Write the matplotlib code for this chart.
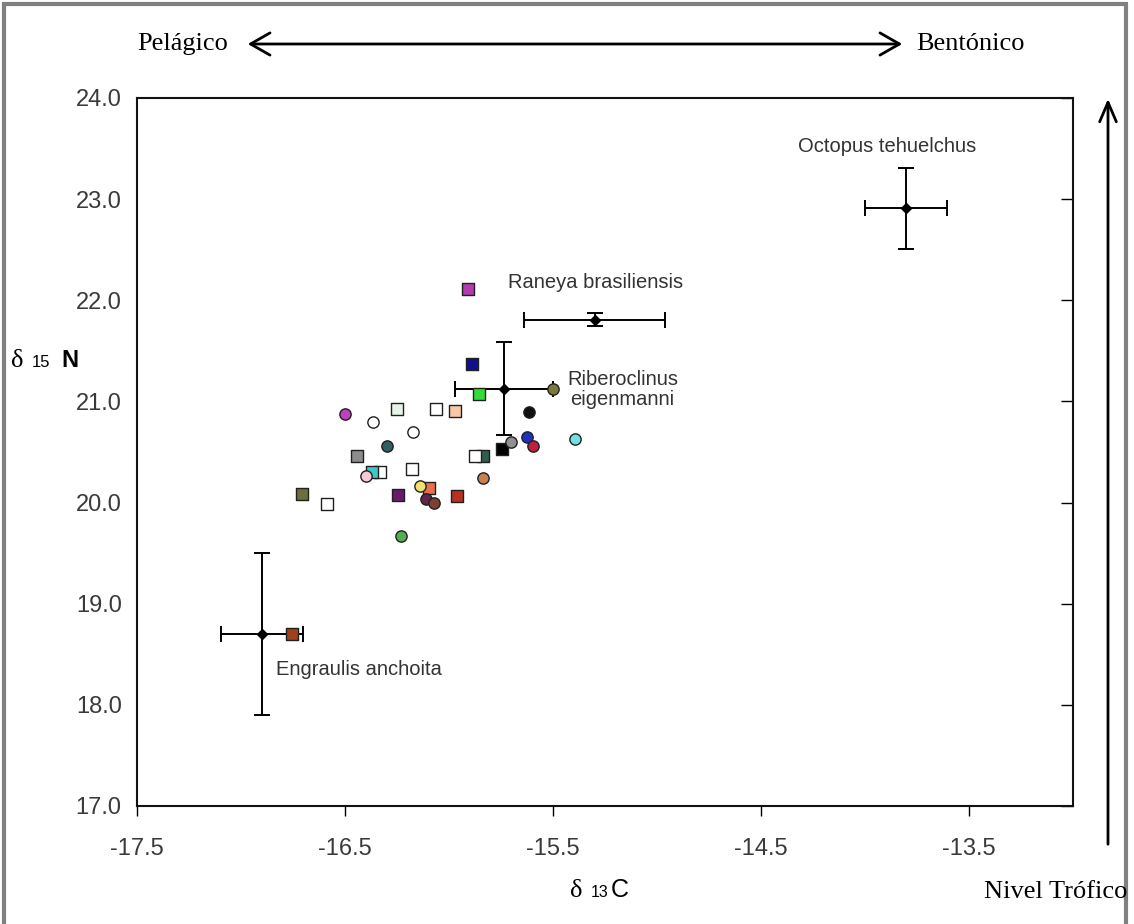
import matplotlib
matplotlib.use("Agg")
import matplotlib.pyplot as plt
from matplotlib.patches import FancyArrowPatch, Rectangle
from matplotlib.ticker import FormatStrFormatter

# --- data ---
# species with mean +- sd
sp_names = ["Engraulis anchoita", "Raneya brasiliensis", "Riberoclinus\neigenmanni", "Octopus tehuelchus"]
sp_c13 = [-16.90, -15.30, -15.734, -13.804]
sp_n15 = [18.70, 21.81, 21.126, 22.91]
sp_c13_sd = [0.197, 0.34, 0.235, 0.196]
sp_n15_sd = [0.80, 0.06, 0.46, 0.40]

# square symbols (drawn in this order)
sq_c13 = [-15.910, -15.888, -15.854, -15.747, -15.837, -15.875, -15.963, -16.096,
          -16.244, -16.180, -16.330, -16.370, -16.444, -16.252, -16.064, -15.971,
          -16.708, -16.588, -16.756]
sq_n15 = [22.116, 21.366, 21.076, 20.530, 20.458, 20.458, 20.062, 20.145,
          20.079, 20.330, 20.300, 20.300, 20.458, 20.930, 20.930, 20.910,
          20.089, 19.987, 18.700]
sq_col = ["#b03cb0", "#10108c", "#33dd33", "#000000", "#2f5e4e", "#ffffff", "#b83020", "#e8704a",
          "#6a1a6a", "#ffffff", "#ffffff", "#3cc8c8", "#8c8c8c", "#e8f4e8", "#ffffff", "#f8c8a8",
          "#6e6e3c", "#ffffff", "#a0401c"]

# circle symbols
ci_c13 = [-15.502, -15.614, -15.393, -15.627, -15.598, -15.702, -15.838, -16.139,
          -16.112, -16.071, -16.401, -16.300, -16.367, -16.175, -16.500, -16.233]
ci_n15 = [21.126, 20.898, 20.624, 20.650, 20.557, 20.600, 20.244, 20.162,
          20.036, 19.997, 20.260, 20.564, 20.800, 20.700, 20.880, 19.674]
ci_col = ["#7a7a40", "#101010", "#70e0e0", "#2030c0", "#c02040", "#909090", "#c88050", "#f0e070",
          "#602848", "#804030", "#f8c8d8", "#306060", "#ffffff", "#ffffff", "#c040c0", "#50b050"]

xticks = [-17.5, -16.5, -15.5, -14.5, -13.5]
yticks = [17, 18, 19, 20, 21, 22, 23, 24]

W, H = 1134, 924
def fx(px):
    return px / W
def fy(py):
    return 1 - py / H

fig = plt.figure(figsize=(W / 100, H / 100), dpi=100)
fig.patch.set_facecolor("white")
ax = fig.add_axes([fx(137), fy(806), (1073 - 137) / W, (806 - 98) / H])

sans = "Liberation Sans"
serif = "Liberation Serif"

# error bars for the species means
ax.errorbar(sp_c13, sp_n15, xerr=sp_c13_sd, yerr=sp_n15_sd, fmt="D", color="black",
            ms=5, elinewidth=1.4, capsize=6, capthick=1.4, zorder=2)

# points
for x, y, c in zip(sq_c13, sq_n15, sq_col):
    ax.scatter(x, y, marker="s", s=72, c=c, edgecolors="#202020", linewidths=1.0, zorder=3)
for x, y, c in zip(ci_c13, ci_n15, ci_col):
    ax.scatter(x, y, marker="o", s=66, c=c, edgecolors="#202020", linewidths=1.0, zorder=3)

# species labels
ax.text(-13.894, 23.525, sp_names[3], ha="center", va="center", fontsize=14.5, family=sans, color="#333333")
ax.text(-15.716, 22.178, sp_names[1], ha="left", va="center", fontsize=14.5, family=sans, color="#333333")
ax.text(-15.433, 21.12, sp_names[2], ha="left", va="center", multialignment="center",
        linespacing=1.1, fontsize=14.5, family=sans, color="#333333")
ax.text(-16.832, 18.347, sp_names[0], ha="left", va="center", fontsize=14.5, family=sans, color="#333333")

ax.set_xlim(-17.5, -13.0)
ax.set_ylim(17, 24)
ax.set_xticks(xticks)
ax.set_yticks(yticks)
ax.xaxis.set_major_formatter(FormatStrFormatter("%.1f"))
ax.yaxis.set_major_formatter(FormatStrFormatter("%.1f"))
ax.tick_params(axis="x", direction="out", length=7, width=1, pad=16, labelsize=17, labelcolor="#3a3a3a")
ax.tick_params(axis="y", left=False, right=True, direction="in", length=9, width=1, pad=11,
               labelsize=17, labelcolor="#3a3a3a")
for lab in ax.get_xticklabels() + ax.get_yticklabels():
    lab.set_family(sans)
for s in ax.spines.values():
    s.set_linewidth(1.5)
    s.set_color("#111111")

# axis titles built from pieces
fig.text(fx(11), fy(367), "\u03b4", family=serif, fontsize=19, va="baseline", ha="left")
fig.text(fx(32), fy(367), "15", family=sans, fontsize=12, va="baseline", ha="left")
fig.text(fx(61), fy(367), "N", family=sans, fontsize=17, weight="bold", va="baseline", ha="left")

fig.text(fx(570), fy(897), "\u03b4", family=serif, fontsize=19, va="baseline", ha="left")
fig.text(fx(591), fy(897), "13", family=sans, fontsize=11.5, va="baseline", ha="left")
fig.text(fx(611), fy(897), "C", family=sans, fontsize=18, va="baseline", ha="left")

# Pelagico <-> Bentonico
fig.text(fx(137), fy(44), "Pelágico", family=serif, fontsize=19, ha="left", va="center")
fig.text(fx(916), fy(44), "Bentónico", family=serif, fontsize=19, ha="left", va="center")
fig.add_artist(FancyArrowPatch((fx(245), fy(44)), (fx(905), fy(44)), transform=fig.transFigure,
                               arrowstyle="<->,head_length=0.7,head_width=0.4", mutation_scale=20,
                               lw=2, color="black"))

# trophic level arrow
fig.text(fx(1056), fy(892), "Nivel Trófico", family=serif, fontsize=19, ha="center", va="center")
fig.add_artist(FancyArrowPatch((fx(1108), fy(847)), (fx(1108), fy(96)), transform=fig.transFigure,
                               arrowstyle="->,head_length=0.7,head_width=0.3", mutation_scale=20,
                               lw=2, color="black"))

# grey frame round the picture
fig.add_artist(Rectangle((fx(4), fy(960)), (1126 - 4) / W, (960 - 4) / H, transform=fig.transFigure,
                         fill=False, edgecolor="#808080", lw=3))

fig.savefig("out.png", dpi=100)
